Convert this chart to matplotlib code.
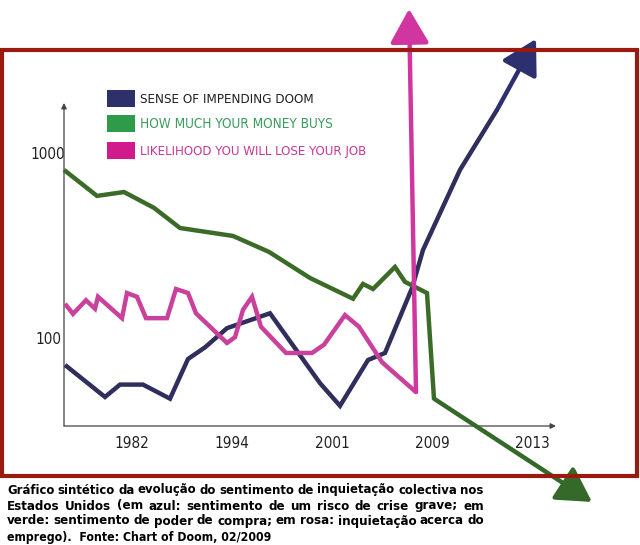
import matplotlib
matplotlib.use('Agg')
import matplotlib.pyplot as plt
from matplotlib.patches import Rectangle
from matplotlib.ticker import NullLocator
from matplotlib import font_manager

# look for a condensed face; fall back to Roboto which is fairly narrow
fam, stretch = 'Roboto', 'normal'
for f in font_manager.fontManager.ttflist:
    st = str(f.stretch)
    if 'Narrow' in f.name or 'Condensed' in f.name or st in ('condensed', 'semi-condensed', '700', '750'):
        fam, stretch = f.name, f.stretch
        break

# x positions are tick slots (1 = 1982 ... 5 = 2013), last point of each series is the arrow tip
years = ['1982', '1994', '2001', '2009', '2013']
year_pos = [1, 2, 3, 4, 5]
y_ticks = [100, 1000]

doom_x = [0.33, 0.73, 0.88, 1.11, 1.38, 1.56, 1.73, 1.95, 2.38, 2.88, 3.08, 3.36, 3.53, 3.80, 3.91, 4.28, 4.65, 5.04]
doom_y = [71.5, 48, 56, 56, 47, 77, 89, 113, 136, 57, 43, 76, 83, 186, 299, 810, 1710, 4130]

money_x = [0.32, 0.65, 0.92, 1.22, 1.48, 2.01, 2.37, 2.78, 3.21, 3.31, 3.41, 3.63, 3.73, 3.95, 4.02, 5.60]
money_y = [810, 586, 615, 505, 393, 356, 292, 211, 163, 196, 184, 242, 201, 175, 47, 13]

job_x = [0.33, 0.41, 0.54, 0.63, 0.66, 0.90, 0.95, 1.05, 1.14, 1.35, 1.44, 1.56, 1.64, 1.95, 2.03,
         2.11, 2.20, 2.29, 2.54, 2.80, 2.92, 3.13, 3.27, 3.50, 3.84, 3.77]
job_y = [153, 135, 160, 144, 167, 128, 175, 167, 128, 128, 184, 175, 136, 94, 101,
         142, 167, 115, 83, 83, 92, 133, 115, 74, 51, 6000]

labels = ['SENSE OF IMPENDING DOOM', 'HOW MUCH YOUR MONEY BUYS', 'LIKELIHOOD YOU WILL LOSE YOUR JOB']

caption = [
    'Gráfico sintético da evolução do sentimento de inquietação colectiva nos',
    'Estados Unidos (em azul: sentimento de um risco de crise grave; em',
    'verde: sentimento de poder de compra; em rosa: inquietação acerca do',
    'emprego).  Fonte: Chart of Doom, 02/2009',
]

W, H = 640, 545
fig = plt.figure(figsize=(W / 100, H / 100), dpi=100)
fig.patch.set_facecolor('white')
fig.canvas.draw()
renderer = fig.canvas.get_renderer()

def fx(px):
    return px / W

def fy(py):
    return 1 - py / H

def fit(t, width):
    # shrink/grow a text so it spans the same width as in the source
    w = t.get_window_extent(renderer).width
    t.set_fontsize(t.get_fontsize() * width / w)

# dark red frame
fig.patches.append(Rectangle((fx(2), fy(476)), fx(635), 426 / H, transform=fig.transFigure,
                             fill=False, edgecolor='#9b1a0f', lw=3, zorder=0))

ax = fig.add_axes([fx(64), fy(426), fx(556 - 64), (426 - 103) / H])
ax.set_facecolor('none')
ax.set_yscale('log')
ax.set_xlim(0.32, 5.24)
ax.set_ylim(33.45, 1862)
for s in ax.spines.values():
    s.set_visible(False)

ax.set_xticks(year_pos, years)
ax.set_yticks(y_ticks, ['100', '1000'])
ax.yaxis.set_minor_locator(NullLocator())
ax.tick_params(length=0, labelsize=11, labelcolor='#222222')
ax.tick_params(axis='x', pad=7)
ax.tick_params(axis='y', pad=11.5)
for lbl in ax.get_xticklabels() + ax.get_yticklabels():
    lbl.set_family(fam)
    lbl.set_stretch(stretch)
for lbl in ax.get_yticklabels():
    lbl.set_ha('center')

# axis lines with small arrowheads
for end in [(0, 1), (1, 0)]:
    ax.annotate('', xy=end, xytext=(0, 0), xycoords='axes fraction',
                arrowprops=dict(arrowstyle='-|>', color='#444444', lw=0.9,
                                shrinkA=0, shrinkB=0, mutation_scale=8))

series = [
    (doom_x, doom_y, '#2f2e5c', '#2e2f6e'),
    (money_x, money_y, '#3b6b27', '#35692a'),
    (job_x, job_y, '#c9419c', '#d1359f'),
]
for xs, ys, c, hc in series:
    ax.plot(xs[:-1], ys[:-1], color=c, lw=3.2, solid_joinstyle='miter',
            solid_capstyle='butt', clip_on=False, zorder=3)
    ax.annotate('', xy=(xs[-1], ys[-1]), xytext=(xs[-2], ys[-2]),
                xycoords='data', annotation_clip=False,
                arrowprops=dict(arrowstyle='-|>,head_length=1.05,head_width=0.6',
                                color=c, fc=hc, ec=hc, lw=3.2, shrinkA=0, shrinkB=0,
                                mutation_scale=20), zorder=4)

# legend
box_cols = ['#2e3169', '#2e9b4b', '#d11a8c']
txt_cols = ['#231f20', '#3a9c5e', '#c83995']
box_tops = [90, 115, 142]
text_ends = [314, 333, 368]
for lab, bc, tc, top, end in zip(labels, box_cols, txt_cols, box_tops, text_ends):
    fig.patches.append(Rectangle((fx(107), fy(top + 17)), fx(28), 17 / H,
                                 transform=fig.transFigure, color=bc, lw=0))
    t = fig.text(fx(140), fy(top + 9), lab, color=tc, fontsize=11, family=fam,
                 stretch=stretch, ha='left', va='center')
    fit(t, end - 140)

# caption, justified like the source
line_y = [490, 506, 521, 537]
cap_kw = dict(fontsize=9.5, weight='bold', family=fam, stretch=stretch,
              va='center', ha='left', color='black')
for i, (line, py) in enumerate(zip(caption, line_y)):
    if i == len(caption) - 1:
        t = fig.text(fx(7), fy(py), line, **cap_kw)
        fit(t, 273 - 7)
        continue
    words = line.split()
    texts = [fig.text(0, fy(py), w, **cap_kw) for w in words]
    widths = [t.get_window_extent(renderer).width for t in texts]
    gap = (484 - 7 - sum(widths)) / (len(words) - 1)
    if gap < 3:
        k = (484 - 7 - 3 * (len(words) - 1)) / sum(widths)
        for t in texts:
            t.set_fontsize(t.get_fontsize() * k)
        widths = [w * k for w in widths]
        gap = 3
    x = 7
    for t, w in zip(texts, widths):
        t.set_x(fx(x))
        x += w + gap

fig.savefig('out.png', dpi=100)
